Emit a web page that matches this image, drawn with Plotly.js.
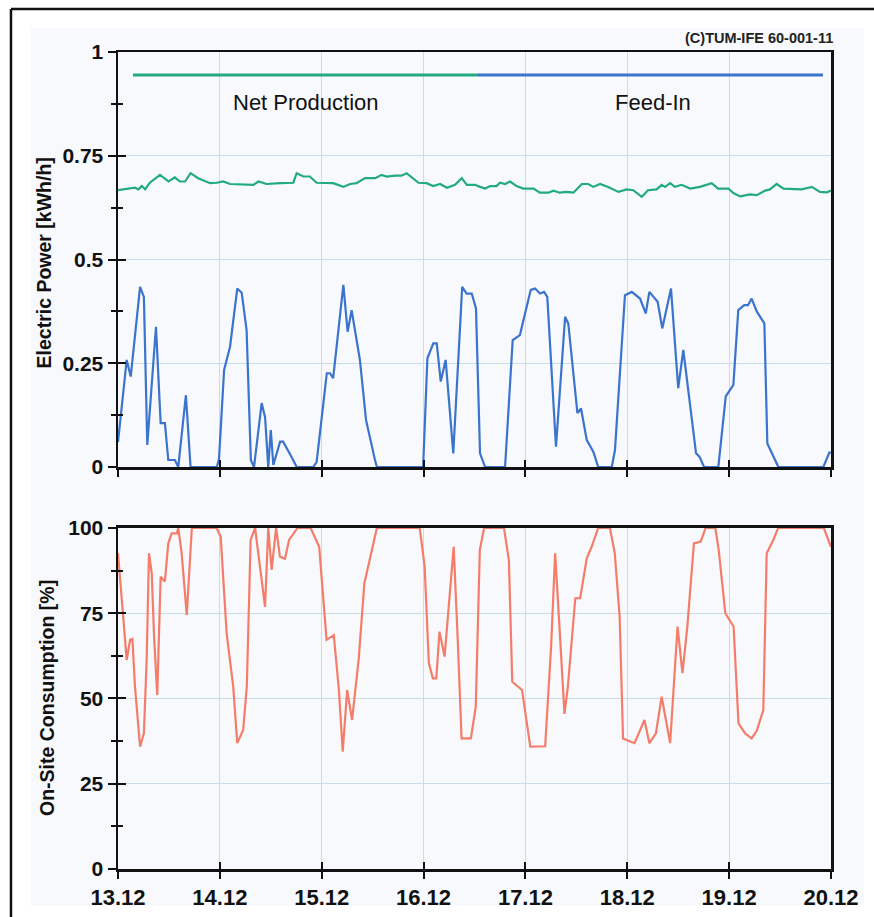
<!DOCTYPE html>
<html>
<head>
<meta charset="utf-8">
<script src="https://cdn.plot.ly/plotly-3.0.1.min.js"></script>
<style>
  html, body { margin: 0; padding: 0; background: #ffffff; }
  #chart { width: 874px; height: 917px; }
</style>
</head>
<body>
<div id="chart"></div>
<script>
// ---- Data (hours since 13.12 00:00) ----
const dayLabels = ['13.12','14.12','15.12','16.12','17.12','18.12','19.12','20.12'];
const dayHours = [0, 24, 48, 72, 96, 120, 144, 168];

// Net Production [kWh/h]
const netProdHours = [0,2.8,4.0,4.8,5.6,6.4,7.5,9.9,11.9,13.4,
  14.6,15.8,17.1,18.9,21.7,23.3,24.8,26.4,31.9,33.1,
  35.0,38.2,41.3,42.1,43.7,45.2,46.8,50.7,53.1,54.7,
  56.2,58.2,60.6,62.1,63.3,65.3,66.8,68.0,69.6,70.8,
  72.7,74.3,75.9,77.5,79.4,81.0,82.2,84.1,85.3,86.5,
  87.7,89.2,90.0,91.2,92.4,93.9,95.5,97.9,99.4,101.4,
  102.6,104.1,105.7,107.3,109.3,110.8,112.0,113.6,115.5,117.9,
  119.9,121.4,123.4,124.9,126.9,128.1,128.9,130.1,131.2,132.8,
  134.8,137.1,139.9,141.4,143.8,145.0,146.6,148.9,150.5,152.5,
  153.6,155.2,156.8,159.1,161.1,163.5,165.4,167.0,168.0];
const netProdValues = [0.667,0.671,0.673,0.669,0.677,0.669,0.685,0.704,0.688,0.698,
  0.688,0.688,0.708,0.696,0.684,0.685,0.688,0.682,0.680,0.688,
  0.682,0.684,0.685,0.708,0.700,0.700,0.685,0.684,0.675,0.682,
  0.684,0.696,0.696,0.704,0.700,0.702,0.702,0.708,0.696,0.685,
  0.684,0.677,0.682,0.673,0.680,0.696,0.680,0.680,0.675,0.671,
  0.677,0.677,0.685,0.682,0.688,0.677,0.671,0.671,0.661,0.661,
  0.666,0.661,0.663,0.661,0.682,0.682,0.675,0.682,0.675,0.663,
  0.669,0.667,0.651,0.667,0.669,0.680,0.675,0.684,0.675,0.680,
  0.671,0.675,0.684,0.671,0.671,0.660,0.652,0.657,0.655,0.666,
  0.669,0.682,0.671,0.669,0.669,0.675,0.663,0.662,0.666];

// Feed-In [kWh/h]
const feedInHours = [0,2.05,3.0,5.2,6.1,6.9,8.95,10.05,11.05,11.85,
  13.4,14.2,16.0,17.1,23.3,23.8,25.0,26.4,28.1,29.15,
  30.3,31.3,32.05,33.85,34.65,35.4,36.0,36.6,38.2,38.9,
  40.9,42.1,46.0,46.8,49.2,49.95,50.7,53.1,54.1,55.05,
  57.0,58.45,60.55,61.0,71.9,72.9,74.3,75.1,76.05,77.2,
  79.0,81.1,82.15,83.35,84.35,85.3,86.5,91.2,93.0,94.7,
  97.25,98.25,99.45,100.4,101.15,103.2,105.35,106.1,108.25,109.1,
  110.45,112.0,113.15,116.35,117.1,119.45,121.05,123.0,124.35,125.2,
  127.15,128.25,130.3,132.0,133.2,136.2,137.0,138.1,141.45,143.2,
  145.0,146.15,147.55,148.45,149.3,150.5,152.3,153.0,155.6,166.2,
  167.6,168];
const feedInValues = [0.06,0.258,0.218,0.434,0.41,0.053,0.338,0.106,0.106,0.017,
  0.017,0,0.173,0,0,0.02,0.234,0.29,0.43,0.42,
  0.33,0.017,0,0.154,0.12,0,0.089,0.005,0.061,0.061,
  0.024,0,0,0.012,0.226,0.226,0.214,0.439,0.326,0.378,
  0.258,0.113,0.017,0,0,0.262,0.298,0.298,0.206,0.258,
  0.033,0.434,0.418,0.418,0.382,0.033,0,0,0.306,0.318,
  0.427,0.43,0.418,0.422,0.41,0.049,0.362,0.346,0.13,0.141,
  0.065,0.037,0,0,0.041,0.414,0.422,0.406,0.37,0.422,
  0.398,0.334,0.43,0.19,0.282,0.033,0.025,0,0,0.17,
  0.198,0.378,0.39,0.39,0.406,0.375,0.346,0.057,0,0,
  0.035,0.035];

// On-Site Consumption [%]
const onSiteHours = [0,1.1,2.05,2.85,3.4,4.0,5.2,6.1,6.75,7.3,
  7.95,8.5,9.25,10.05,11.05,11.85,12.65,13.85,14.2,15.0,
  16.2,17.4,23.25,24.2,25.6,27.15,28.1,29.5,30.35,31.25,
  32.3,33.45,34.65,35.4,36.2,37.25,38.15,39.35,40.3,42.3,
  45.4,47.4,49.15,50.85,52.05,52.95,54.0,55.15,56.7,58.05,
  61.0,71.1,72.25,73.25,74.2,75.0,75.75,76.95,79.1,80.05,
  80.95,83.15,84.3,85.25,86.25,90.95,92.1,92.9,95.2,97.15,
  99.9,100.65,102.05,103.0,104.2,105.2,106.0,107.75,108.9,110.45,
  111.6,113.15,115.9,117.05,118.2,119.0,121.7,124.05,125.2,126.75,
  128.1,130.1,131.85,133.0,134.15,135.7,137.3,138.45,140.75,141.55,
  143.1,145.05,146.2,147.75,149.3,150.5,152.05,152.85,154.4,155.55,
  166.3,168];
const onSiteValues = [92.6,75,61.3,67.2,67.5,53.5,35.9,39.8,61.3,92.6,
  86.7,68.1,51,85.7,84.3,95.5,98.4,98.4,100,92.6,
  74.5,100,100,97.4,69.1,53.5,36.9,40.8,53.5,96.5,
  100,88.7,76.9,100,87.7,100,91.6,91,96.5,100,
  100,94.5,67.2,68.6,52.5,34.4,52.5,43.7,61.3,83.8,
  100,100,88.7,60.3,55.9,55.9,69.6,62.3,94.5,67.2,
  38.3,38.3,47.6,93.5,100,100,90.6,54.9,52.5,35.9,
  36.0,36.0,65.2,92.6,67.2,45.5,53.5,79.4,79.4,91.1,
  94.5,100,100,92.6,74,38.3,36.9,43.7,36.9,39.8,
  50.5,36.9,71.1,57.4,71.1,95.5,96,100,100,93.5,
  75,71.1,42.7,39.8,38.3,40.5,46.6,92.6,96.5,100,
  100,94.5];

const seriesNames = ['Net Production', 'Feed-In', 'On-Site Consumption'];

// ---- Styles ----
const GREEN = '#22aa80';
const BLUE = '#3b74cc';
const RED = '#f47d6a';
const GRID = '#c9dde8';
const BG = '#f8f9fc';
const FONT = '"Liberation Sans", Arial, sans-serif';

function helper(xa, ya) {
  // invisible helper so an overlay axis (inner half of the crossing ticks) gets drawn
  return { x: [dayHours[0]], y: [0], type: 'scatter', mode: 'markers',
    marker: { size: 1, opacity: 0 }, xaxis: xa, yaxis: ya, hoverinfo: 'skip' };
}

const traces = [
  { x: netProdHours, y: netProdValues, name: seriesNames[0], type: 'scatter', mode: 'lines',
    line: { color: GREEN, width: 2.2 }, xaxis: 'x', yaxis: 'y', hoverinfo: 'skip' },
  { x: feedInHours, y: feedInValues, name: seriesNames[1], type: 'scatter', mode: 'lines',
    line: { color: BLUE, width: 2.2 }, xaxis: 'x', yaxis: 'y', hoverinfo: 'skip' },
  { x: onSiteHours, y: onSiteValues, name: seriesNames[2], type: 'scatter', mode: 'lines',
    line: { color: RED, width: 2.2 }, xaxis: 'x2', yaxis: 'y2', hoverinfo: 'skip' },
  helper('x', 'y3'), helper('x3', 'y'),
  helper('x2', 'y4'), helper('x4', 'y2')
];

const tickFont = { family: FONT, size: 21, color: '#111111', weight: 'bold' };

function xAxisBase(extra) {
  return Object.assign({
    range: [dayHours[0], dayHours[dayHours.length - 1]],
    tickmode: 'array', tickvals: dayHours, ticktext: dayLabels,
    ticks: 'outside', ticklen: 7, tickwidth: 2, tickcolor: '#111',
    showgrid: true, gridcolor: GRID, gridwidth: 1,
    showline: true, linecolor: '#111', linewidth: 2.5, mirror: true,
    zeroline: false, tickfont: tickFont, fixedrange: true
  }, extra);
}

function innerX(over, anchor) {
  return {
    overlaying: over, anchor: anchor, side: 'bottom',
    range: [dayHours[0], dayHours[dayHours.length - 1]],
    tickmode: 'array', tickvals: dayHours, showticklabels: false,
    ticks: 'inside', ticklen: 7, tickwidth: 2, tickcolor: '#111',
    showgrid: false, showline: false, zeroline: false, fixedrange: true
  };
}
function innerY(over, anchor, top) {
  return {
    overlaying: over, anchor: anchor, range: [0, top], side: 'left',
    tickmode: 'linear', tick0: 0, dtick: top / 4, showticklabels: false,
    ticks: 'inside', ticklen: 8, tickwidth: 2, tickcolor: '#111',
    minor: { ticks: 'inside', ticklen: 5, tickwidth: 2, tickcolor: '#111', dtick: top / 8, showgrid: false },
    showgrid: false, showline: false, zeroline: false, fixedrange: true
  };
}

const layout = {
  width: 874, height: 917,
  margin: { l: 118, r: 43, t: 52, b: 48 },
  paper_bgcolor: '#ffffff',
  plot_bgcolor: BG,
  showlegend: false,
  font: { family: FONT, color: '#111' },
  xaxis: xAxisBase({ anchor: 'y', showticklabels: false }),
  yaxis: {
    domain: [0.492, 1], anchor: 'x', range: [0, 1],
    tickmode: 'linear', tick0: 0, dtick: 0.25,
    ticks: 'outside', ticklen: 8, tickwidth: 2, tickcolor: '#111',
    minor: { ticks: 'outside', ticklen: 5, tickwidth: 2, tickcolor: '#111', dtick: 0.125, showgrid: false },
    showgrid: true, gridcolor: GRID, gridwidth: 1,
    showline: true, linecolor: '#111', linewidth: 2.5, mirror: true,
    zeroline: false, tickfont: tickFont, fixedrange: true
  },
  xaxis2: xAxisBase({ anchor: 'y2', showticklabels: true, tickfont: Object.assign({}, tickFont, { size: 22 }) }),
  yaxis2: {
    domain: [0, 0.4174], anchor: 'x2', range: [0, 100],
    tickmode: 'linear', tick0: 0, dtick: 25,
    ticks: 'outside', ticklen: 8, tickwidth: 2, tickcolor: '#111',
    minor: { ticks: 'outside', ticklen: 5, tickwidth: 2, tickcolor: '#111', dtick: 12.5, showgrid: false },
    showgrid: true, gridcolor: GRID, gridwidth: 1,
    showline: true, linecolor: '#111', linewidth: 2.5, mirror: true,
    zeroline: false, tickfont: tickFont, fixedrange: true
  },
  xaxis3: innerX('x', 'y'),
  yaxis3: innerY('y', 'x', 1),
  xaxis4: innerX('x2', 'y2'),
  yaxis4: innerY('y2', 'x2', 100),
  shapes: [
    // light panel behind the chart
    { type: 'rect', xref: 'paper', yref: 'paper', x0: -0.122, x1: 1.0463, y0: -0.045, y1: 1.0294,
      fillcolor: BG, line: { width: 0 }, layer: 'below' },
    // outer frame (left and top edges visible)
    { type: 'line', xref: 'paper', yref: 'paper', x0: -0.1501, x1: -0.1501, y0: -0.1, y1: 1.0526,
      line: { color: '#111', width: 2.5 } },
    { type: 'line', xref: 'paper', yref: 'paper', x0: -0.1501, x1: 1.1, y0: 1.0526, y1: 1.0526,
      line: { color: '#111', width: 2.5 } },
    // legend keys
    { type: 'line', xref: 'paper', yref: 'paper', x0: 0.021, x1: 0.5049, y0: 0.9718, y1: 0.9718,
      line: { color: GREEN, width: 3 } },
    { type: 'line', xref: 'paper', yref: 'paper', x0: 0.5049, x1: 0.9888, y0: 0.9718, y1: 0.9718,
      line: { color: BLUE, width: 3 } }
  ],
  annotations: [
    { text: seriesNames[0], xref: 'paper', yref: 'paper', x: 0.2637, y: 0.9376,
      xanchor: 'center', yanchor: 'middle', showarrow: false,
      font: { family: FONT, size: 22, color: '#111' } },
    { text: seriesNames[1], xref: 'paper', yref: 'paper', x: 0.7504, y: 0.9376,
      xanchor: 'center', yanchor: 'middle', showarrow: false,
      font: { family: FONT, size: 22, color: '#111' } },
    { text: '(C)TUM-IFE 60-001-11', xref: 'paper', yref: 'paper', x: 1.0056, y: 1.0171,
      xanchor: 'right', yanchor: 'middle', showarrow: false,
      font: { family: FONT, size: 14.5, color: '#222', weight: 'bold' } },
    { text: 'Electric Power [kWh/h]', xref: 'paper', yref: 'paper', x: -0.1038, y: 0.7424,
      xanchor: 'center', yanchor: 'middle', textangle: -90, showarrow: false,
      font: { family: FONT, size: 19.5, color: '#111', weight: 'bold' } },
    { text: 'On-Site Consumption [%]', xref: 'paper', yref: 'paper', x: -0.0996, y: 0.2093,
      xanchor: 'center', yanchor: 'middle', textangle: -90, showarrow: false,
      font: { family: FONT, size: 19.5, color: '#111', weight: 'bold' } }
  ]
};

Plotly.newPlot('chart', traces, layout, { displayModeBar: false, staticPlot: true });
</script>
</body>
</html>
